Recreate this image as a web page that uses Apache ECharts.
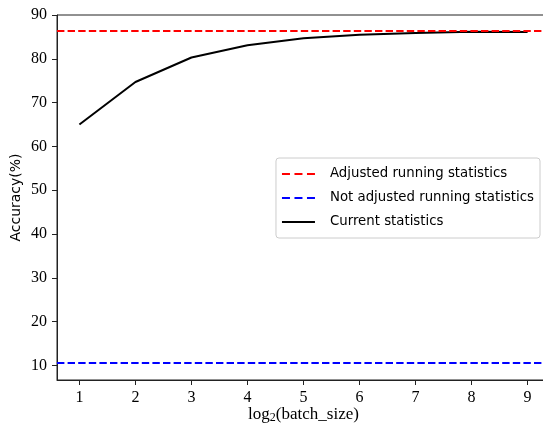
<!DOCTYPE html>
<html>
<head>
<meta charset="utf-8">
<script src="https://cdn.jsdelivr.net/npm/echarts@6/dist/echarts.min.js"></script>
<style>
  html, body { margin: 0; padding: 0; background: #fff; }
  #chart { width: 543px; height: 425px; }
</style>
</head>
<body>
<div id="chart"></div>
<script>
// x positions are log2(batch_size)
var batchLog2 = [1, 2, 3, 4, 5, 6, 7, 8, 9];
var currentStats = [65.0, 74.7, 80.3, 83.1, 84.7, 85.5, 85.9, 86.2, 86.1];
var adjustedLevel = 86.3;
var notAdjustedLevel = 10.6;
var yTicks = [10, 20, 30, 40, 50, 60, 70, 80, 90];

var serif = '"Liberation Serif", "DejaVu Serif", serif';
var sans = '"DejaVu Sans", "Noto Sans", sans-serif';

// legend glyphs: three dashes / one solid stroke
var dashIcon = 'path://M0,0h8v2h-8z M12.5,0h8v2h-8z M25,0h8v2h-8z';
var solidIcon = 'path://M0,0h33v2h-33z';

var chart = echarts.init(document.getElementById('chart'));

var option = {
    animation: false,
    grid: {
        left: 57, top: 15, width: 493, height: 365,
        outerBoundsMode: 'none',
        show: true, borderColor: '#222', borderWidth: 1
    },
    legend: {
        right: 3, top: 158,
        orient: 'vertical',
        backgroundColor: '#fff',
        borderColor: '#ccc', borderWidth: 1, borderRadius: 3,
        padding: [8, 6, 8, 6],
        itemWidth: 33, itemHeight: 2, itemGap: 8,
        textStyle: { fontFamily: sans, fontSize: 13.3, color: '#000', lineHeight: 16, padding: [0, 0, 0, 10] },
        data: [
            { name: 'Adjusted running statistics', icon: dashIcon, itemStyle: { color: '#ff0000' } },
            { name: 'Not adjusted running statistics', icon: dashIcon, itemStyle: { color: '#0000ff' } },
            { name: 'Current statistics', icon: solidIcon, itemStyle: { color: '#000' } }
        ]
    },
    xAxis: {
        type: 'value', min: 0.6, max: 9.4,
        name: 'log{sub|2}(batch_size)',
        nameLocation: 'middle', nameGap: 26,
        nameMoveOverlap: false,
        nameTextStyle: {
            fontFamily: serif, fontSize: 17, color: '#000',
            rich: { sub: { fontFamily: serif, fontSize: 12, verticalAlign: 'bottom', padding: [6, 0, 0, 0] } }
        },
        splitLine: { show: false },
        axisLine: { lineStyle: { color: '#222', width: 1 } },
        axisTick: { customValues: batchLog2, length: 5, lineStyle: { color: '#222' } },
        axisLabel: { customValues: batchLog2, fontFamily: serif, fontSize: 16, color: '#000', margin: 10 }
    },
    yAxis: {
        type: 'value', min: 6.7, max: 90,
        name: 'Accuracy(%)',
        nameLocation: 'middle', nameGap: 34,
        nameMoveOverlap: false,
        nameTextStyle: { fontFamily: sans, fontSize: 14, color: '#000' },
        splitLine: { show: false },
        axisLine: { show: true, lineStyle: { color: '#222', width: 1 } },
        axisTick: { customValues: yTicks, length: 5, lineStyle: { color: '#222' } },
        axisLabel: { customValues: yTicks, fontFamily: serif, fontSize: 16, color: '#000', margin: 10 }
    },
    series: [
        {
            name: 'Adjusted running statistics',
            type: 'line', data: [], symbol: 'none',
            lineStyle: { color: '#ff0000', width: 2, type: [7.4, 3.2] },
            itemStyle: { color: '#ff0000' },
            markLine: {
                silent: true, symbol: 'none', label: { show: false },
                lineStyle: { color: '#ff0000', width: 2, type: [7.4, 3.2] },
                data: [{ yAxis: adjustedLevel }]
            }
        },
        {
            name: 'Not adjusted running statistics',
            type: 'line', data: [], symbol: 'none',
            lineStyle: { color: '#0000ff', width: 2, type: [7.4, 3.2] },
            itemStyle: { color: '#0000ff' },
            markLine: {
                silent: true, symbol: 'none', label: { show: false },
                lineStyle: { color: '#0000ff', width: 2, type: [7.4, 3.2] },
                data: [{ yAxis: notAdjustedLevel }]
            }
        },
        {
            name: 'Current statistics',
            type: 'line', symbol: 'none',
            lineStyle: { color: '#000', width: 2 },
            itemStyle: { color: '#000' },
            data: batchLog2.map(function (x, i) { return [x, currentStats[i]]; })
        }
    ]
};

chart.setOption(option);
</script>
</body>
</html>
